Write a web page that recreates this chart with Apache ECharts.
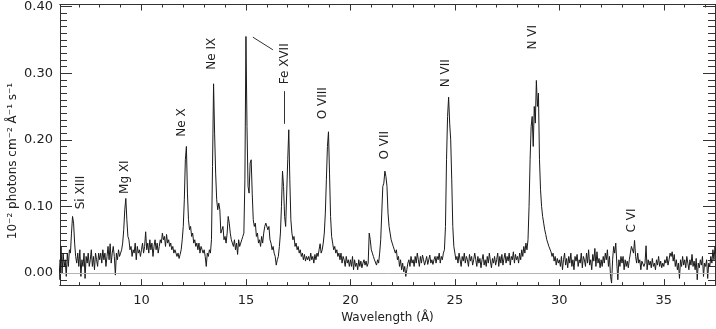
<!DOCTYPE html>
<html>
<head>
<meta charset="utf-8">
<title>X-ray spectrum</title>
<script src="https://cdn.jsdelivr.net/npm/echarts@6.0.0/dist/echarts.min.js"></script>
<style>
  html, body { margin: 0; padding: 0; background: #fff; }
  #chart { width: 716px; height: 329px; }
</style>
</head>
<body>
<div id="chart"></div>
<script>
// wavelength grid: start + i * step (Angstrom)
var waveStart = 6.0;
var waveStep = 0.05;

// flux, 10^-2 photons cm^-2 A^-1 s^-1, one row per Angstrom (20 bins)
var flux = [
  // 6
  0.01, 0.02, -0.01, 0.04, 0.00, 0.03, 0.01, 0.02, -0.005, 0.03, 0.01, 0.035, 0.03, 0.06, 0.085, 0.075, 0.045, 0.025, 0.015, 0.03,
  // 7
  0.01, 0.035, -0.005, 0.02, 0.01, 0.03, -0.008, 0.025, 0.015, 0.03, 0.01, 0.02, 0.035, 0.01, 0.025, 0.005, 0.03, 0.02, 0.01, 0.03,
  // 8
  0.02, 0.03, 0.015, 0.035, 0.02, 0.03, 0.01, 0.025, 0.04, 0.02, 0.044, 0.015, 0.03, 0.04, 0.025, -0.003, 0.03, 0.02, 0.035, 0.025,
  // 9
  0.03, 0.035, 0.045, 0.065, 0.095, 0.112, 0.08, 0.055, 0.05, 0.035, 0.04, 0.025, 0.035, 0.03, 0.045, 0.02, 0.04, 0.03, 0.035, 0.025,
  // 10
  0.035, 0.045, 0.03, 0.04, 0.062, 0.035, 0.045, 0.03, 0.05, 0.035, 0.045, 0.025, 0.04, 0.05, 0.035, 0.045, 0.03, 0.04, 0.05, 0.045,
  // 11
  0.06, 0.05, 0.055, 0.04, 0.058, 0.045, 0.05, 0.04, 0.045, 0.035, 0.04, 0.03, 0.035, 0.03, 0.025, 0.03, 0.022, 0.028, 0.035, 0.05,
  // 12
  0.07, 0.11, 0.17, 0.19, 0.12, 0.08, 0.065, 0.07, 0.055, 0.06, 0.045, 0.05, 0.04, 0.045, 0.035, 0.045, 0.03, 0.04, 0.035, 0.03,
  // 13
  0.035, 0.025, 0.01, 0.03, 0.025, 0.035, 0.03, 0.05, 0.16, 0.284, 0.21, 0.15, 0.11, 0.095, 0.105, 0.095, 0.06, 0.06, 0.07, 0.05,
  // 14
  0.055, 0.045, 0.06, 0.085, 0.075, 0.06, 0.05, 0.045, 0.04, 0.05, 0.035, 0.045, 0.028, 0.05, 0.04, 0.045, 0.05, 0.055, 0.06, 0.14,
  // 15
  0.355, 0.22, 0.13, 0.12, 0.165, 0.17, 0.12, 0.08, 0.07, 0.075, 0.055, 0.06, 0.045, 0.05, 0.04, 0.055, 0.045, 0.06, 0.07, 0.075,
  // 16
  0.078, 0.065, 0.07, 0.05, 0.045, 0.035, 0.04, 0.03, 0.025, 0.012, 0.02, 0.025, 0.04, 0.06, 0.1, 0.153, 0.13, 0.085, 0.07, 0.068,
  // 17
  0.17, 0.215, 0.14, 0.08, 0.06, 0.05, 0.055, 0.04, 0.045, 0.035, 0.04, 0.03, 0.035, 0.025, 0.03, 0.02, 0.028, 0.018, 0.025, 0.02,
  // 18
  0.025, 0.018, 0.03, 0.02, 0.025, 0.015, 0.028, 0.02, 0.03, 0.025, 0.035, 0.044, 0.03, 0.035, 0.045, 0.06, 0.09, 0.14, 0.19, 0.212,
  // 19
  0.15, 0.085, 0.055, 0.045, 0.035, 0.04, 0.03, 0.035, 0.025, 0.03, 0.02, 0.03, 0.015, 0.025, 0.02, 0.01, 0.025, 0.015, 0.02, 0.01,
  // 20
  0.02, 0.01, 0.025, 0.005, 0.02, 0.01, 0.015, 0.005, 0.02, 0.01, 0.018, 0.008, 0.015, 0.02, 0.012, 0.018, 0.01, 0.015, 0.06, 0.05,
  // 21
  0.035, 0.03, 0.025, 0.02, 0.022, 0.012, 0.02, 0.015, 0.03, 0.05, 0.09, 0.13, 0.135, 0.153, 0.145, 0.13, 0.09, 0.07, 0.06, 0.05,
  // 22
  0.045, 0.04, 0.035, 0.03, 0.035, 0.02, 0.025, 0.01, 0.02, 0.005, 0.015, 0.002, 0.01, -0.005, 0.005, 0.015, 0.02, 0.01, 0.025, 0.015,
  // 23
  0.02, 0.01, 0.025, 0.015, 0.03, 0.02, 0.01, 0.025, 0.015, 0.027, 0.02, 0.012, 0.018, 0.025, 0.013, 0.02, 0.027, 0.015, 0.02, 0.013,
  // 24
  0.02, 0.025, 0.015, 0.025, 0.02, 0.03, 0.015, 0.025, 0.02, 0.03, 0.035, 0.07, 0.17, 0.235, 0.264, 0.225, 0.2, 0.14, 0.07, 0.04,
  // 25
  0.03, 0.02, 0.025, 0.015, 0.03, 0.02, 0.01, 0.025, 0.018, 0.03, 0.015, 0.025, 0.02, 0.01, 0.028, 0.018, 0.025, 0.012, 0.02, 0.03,
  // 26
  0.02, 0.01, 0.025, 0.015, 0.022, 0.008, 0.02, 0.028, 0.012, 0.02, 0.01, 0.025, 0.015, 0.03, 0.018, 0.008, 0.022, 0.015, 0.025, 0.012,
  // 27
  0.02, 0.03, 0.01, 0.025, 0.015, 0.028, 0.012, 0.022, 0.03, 0.015, 0.025, 0.018, 0.03, 0.012, 0.025, 0.02, 0.032, 0.015, 0.028, 0.02,
  // 28
  0.025, 0.015, 0.03, 0.02, 0.035, 0.025, 0.04, 0.03, 0.045, 0.035, 0.05, 0.1, 0.17, 0.22, 0.235, 0.19, 0.25, 0.225, 0.289, 0.25,
  // 29
  0.27, 0.17, 0.125, 0.1, 0.085, 0.075, 0.065, 0.058, 0.05, 0.045, 0.04, 0.042, 0.032, 0.025, 0.03, 0.018, 0.025, 0.012, 0.022, 0.015,
  // 30
  0.02, 0.01, 0.025, 0.005, 0.02, 0.03, 0.012, 0.022, 0.008, 0.025, 0.015, 0.03, 0.01, 0.02, 0.005, 0.025, 0.018, 0.028, 0.01, 0.02,
  // 31
  0.015, 0.03, 0.008, 0.025, 0.02, 0.01, 0.03, 0.015, 0.035, 0.012, 0.02, 0.005, 0.028, 0.018, 0.037, 0.01, 0.032, 0.015, 0.022, 0.008,
  // 32
  0.02, 0.01, 0.025, 0.015, 0.03, 0.02, 0.035, 0.01, 0.025, -0.005, -0.015, 0.02, 0.04, 0.03, 0.045, 0.015, -0.01, 0.02, 0.01, 0.025,
  // 33
  0.015, 0.025, 0.005, 0.02, 0.01, 0.018, 0.008, 0.02, 0.03, 0.04, 0.038, 0.03, 0.049, 0.025, 0.015, 0.03, 0.015, 0.02, 0.005, 0.018,
  // 34
  0.02, 0.01, 0.015, 0.041, 0.005, 0.02, 0.012, 0.018, 0.008, 0.022, 0.01, 0.015, 0.005, 0.02, 0.012, 0.025, 0.01, 0.018, 0.008, 0.015,
  // 35
  0.01, 0.02, 0.015, 0.025, 0.012, 0.02, 0.03, 0.025, 0.032, 0.018, 0.028, 0.01, 0.02, 0.005, 0.015, -0.008, 0.02, 0.01, 0.025, 0.012,
  // 36
  0.02, 0.008, 0.025, 0.015, 0.005, 0.02, 0.012, 0.028, 0.01, 0.018, 0.005, 0.022, -0.01, 0.015, 0.008, 0.02, 0.012, 0.025, -0.005, 0.015,
  // 37
  0.01, 0.02, -0.008, 0.015, 0.01, 0.025, 0.015, 0.035, 0.02, 0.04, 0.03
];

// line identifications: name, wavelength and flux at the label centre
var lineNames = ['Si XIII', 'Mg XI', 'Ne X', 'Ne IX', 'Fe XVII', 'O VIII', 'O VII', 'N VII', 'N VI', 'C VI'];
var lineWave  = [7.11, 9.21, 11.94, 13.37, 16.87, 18.68, 21.65, 24.57, 28.73, 33.47];
var lineFlux  = [0.121, 0.144, 0.226, 0.329, 0.314, 0.255, 0.192, 0.300, 0.354, 0.079];

// ticks
var xMajor = [10, 15, 20, 25, 30, 35];
var xMinor = [7, 8, 9, 11, 12, 13, 14, 16, 17, 18, 19, 21, 22, 23, 24, 26, 27, 28, 29, 31, 32, 33, 34, 36, 37];
var yMajor = [0, 0.1, 0.2, 0.3, 0.4];
var yMinor = [];
for (var k = -1; k < 40; k++) {
  if (k % 10 !== 0) yMinor.push(k / 100);
}

var xMin = 6.1, xMax = 37.45;
var yMin = -0.018, yMax = 0.403;
var axisColor = '#333';
var textColor = '#222';
var fontFam = 'DejaVu Sans';

var points = flux.map(function (f, i) {
  return [+(waveStart + i * waveStep).toFixed(2), f];
});

function xAx(pos, ticks, len, withLabel) {
  return {
    type: 'value', position: pos, min: xMin, max: xMax,
    axisLine: { show: true, onZero: false, lineStyle: { color: axisColor, width: 1 } },
    axisTick: { show: true, inside: true, length: len, customValues: ticks, lineStyle: { color: axisColor } },
    axisLabel: {
      show: withLabel, customValues: ticks, margin: 9,
      color: textColor, fontSize: 13, fontFamily: fontFam
    },
    splitLine: { show: false },
    name: withLabel ? 'Wavelength (\u00c5)' : '',
    nameLocation: 'middle', nameGap: 25,
    nameTextStyle: { color: textColor, fontSize: 12, fontFamily: fontFam }
  };
}
function yAx(pos, ticks, len, withLabel) {
  return {
    type: 'value', position: pos, min: yMin, max: yMax,
    axisLine: { show: true, onZero: false, lineStyle: { color: axisColor, width: 1 } },
    axisTick: { show: true, inside: true, length: len, customValues: ticks, lineStyle: { color: axisColor } },
    axisLabel: {
      show: withLabel, customValues: ticks, margin: 7,
      color: textColor, fontSize: 13, fontFamily: fontFam,
      formatter: function (v) { return v.toFixed(2); }
    },
    splitLine: { show: false }
  };
}

var chart = echarts.init(document.getElementById('chart'));
var option = {
  animation: false,
  backgroundColor: '#fff',
  grid: { left: 60, right: 1, top: 2, bottom: 42 },
  xAxis: [
    xAx('bottom', xMajor, 6, true),
    xAx('bottom', xMinor, 3, false),
    xAx('top', xMajor, 6, false),
    xAx('top', xMinor, 3, false)
  ],
  yAxis: [
    yAx('left', yMajor, 12, true),
    yAx('left', yMinor, 7, false),
    yAx('right', yMajor, 12, false),
    yAx('right', yMinor, 7, false)
  ],
  series: [{
    type: 'line',
    xAxisIndex: 0,
    yAxisIndex: 0,
    data: points,
    showSymbol: false,
    symbol: 'none',
    clip: true,
    lineStyle: { color: '#1a1a1a', width: 1 },
    markLine: {
      silent: true,
      animation: false,
      symbol: ['none', 'none'],
      label: { show: false },
      lineStyle: { color: '#333', width: 1, type: 'solid' },
      data: [
        { yAxis: 0, lineStyle: { color: '#b4b4b4', width: 1, type: 'solid' } },
        [{ coord: [16.82, 0.273] }, { coord: [16.82, 0.224] }],
        [{ coord: [15.33, 0.354] }, { coord: [16.29, 0.335] }]
      ]
    }
  }]
};
chart.setOption(option);

// rotated line labels and y axis title
var labels = lineNames.map(function (n, i) {
  var p = chart.convertToPixel({ xAxisIndex: 0, yAxisIndex: 0 }, [lineWave[i], lineFlux[i]]);
  return {
    type: 'text', x: p[0], y: p[1], rotation: Math.PI / 2,
    style: { text: n, fill: textColor, font: '12px "' + fontFam + '"', align: 'center', verticalAlign: 'middle' }
  };
});
labels.push({
  type: 'text', x: 13, y: 161, rotation: Math.PI / 2,
  style: {
    text: '10\u207b\u00b2 photons cm\u207b\u00b2 \u00c5\u207b\u00b9 s\u207b\u00b9',
    fill: textColor, font: '12px "' + fontFam + '"', align: 'center', verticalAlign: 'middle'
  }
});
chart.setOption({ graphic: labels });
</script>
</body>
</html>
